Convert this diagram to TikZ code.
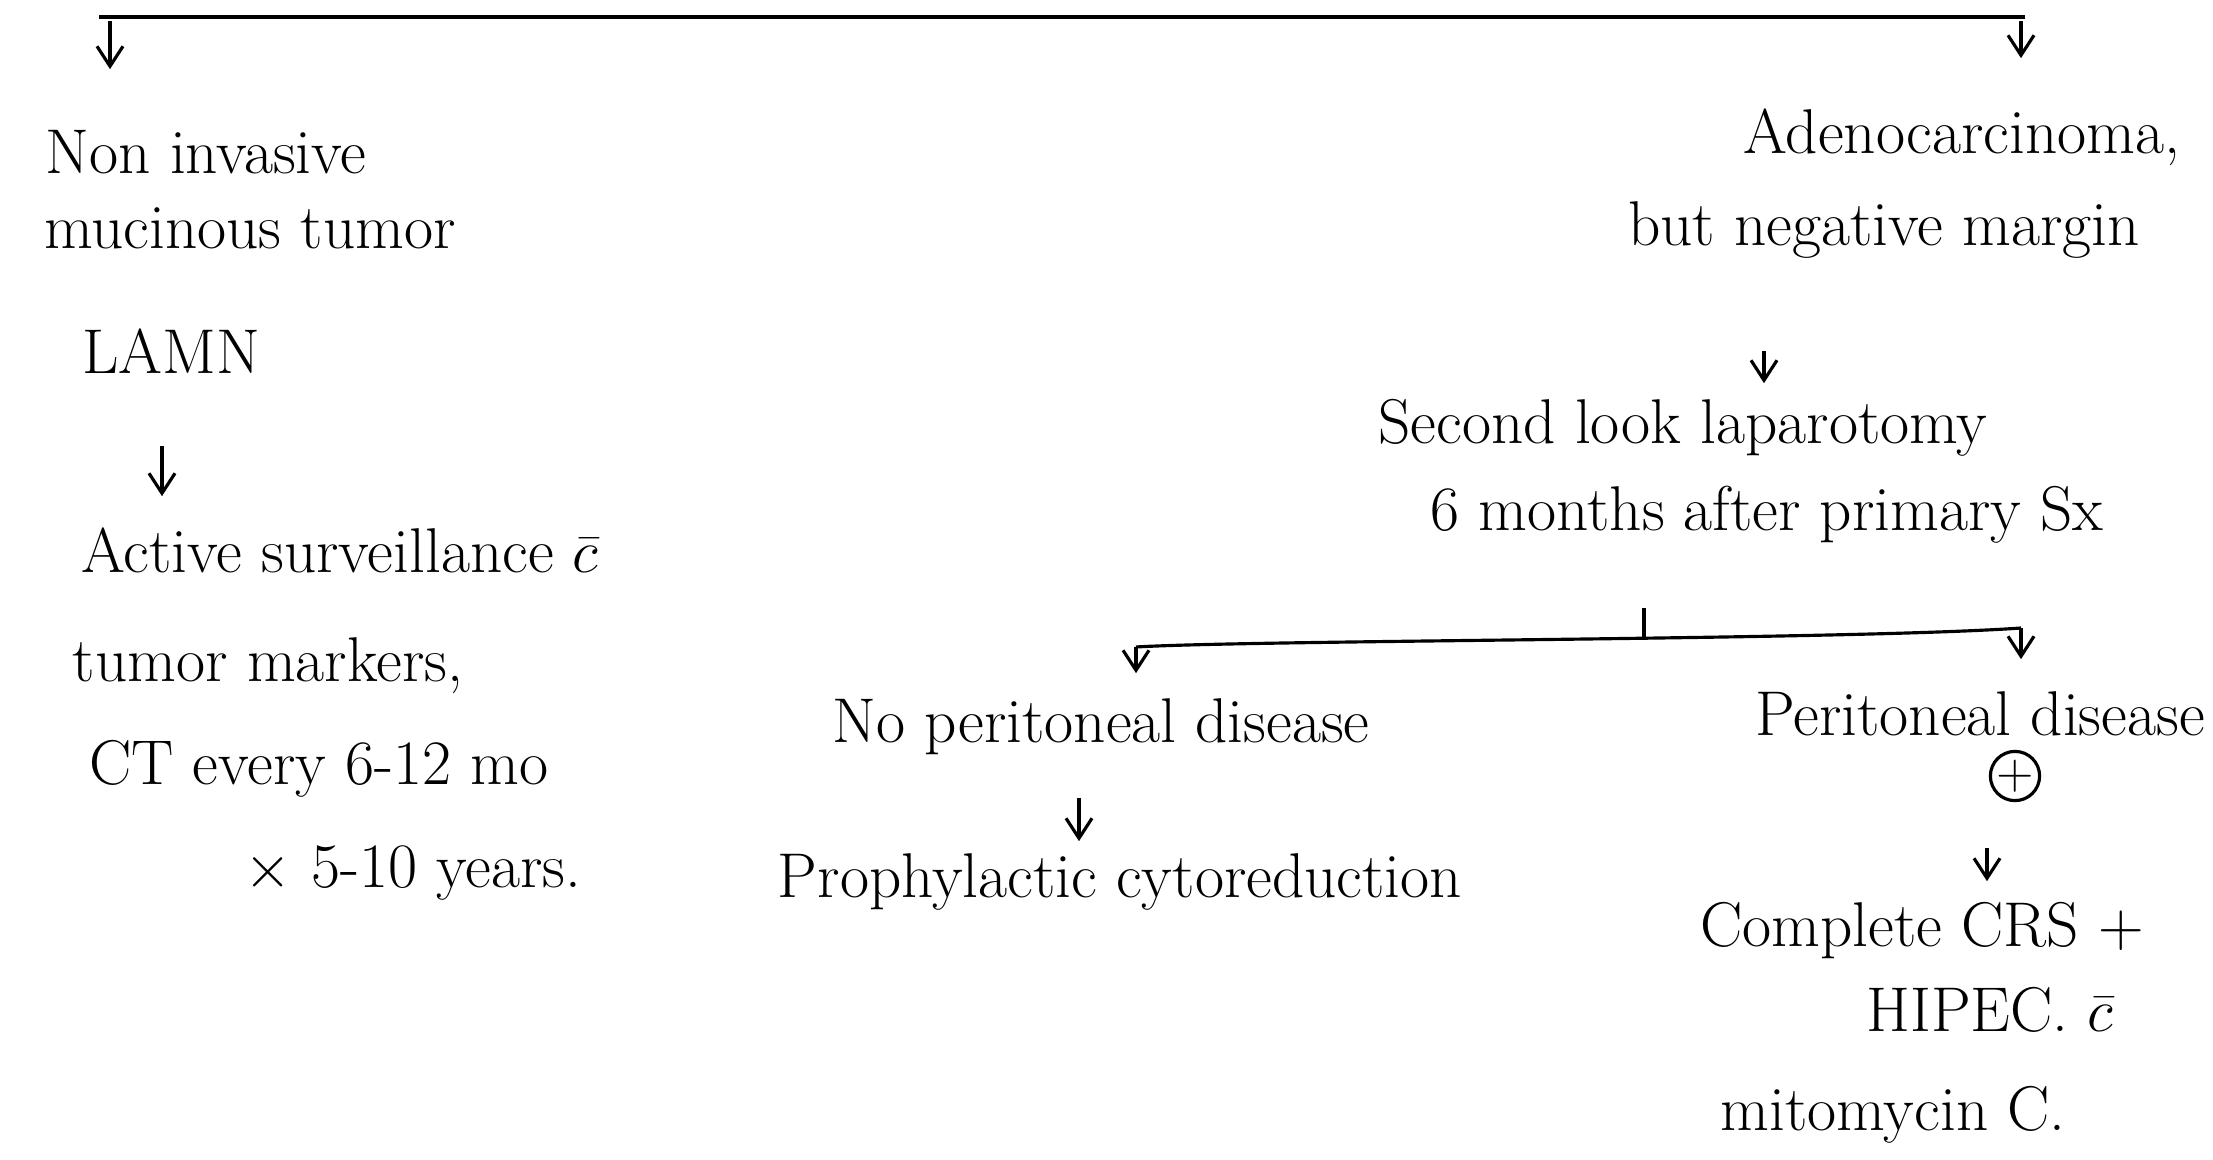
\documentclass[tikz,border=0pt]{standalone}
\usepackage{tikz}
\usetikzlibrary{arrows.meta,positioning,calc}

\begin{document}
\begin{tikzpicture}[
    note/.style={inner sep=1pt, text height=13.5pt, text depth=4.5pt, font=\fontsize{18}{21}\selectfont},
    arr/.style={-{Straight Barb[length=2mm,width=2.6mm]}, line width=0.9pt},
    link/.style={line width=0.9pt}
]
    \useasboundingbox (0,0) rectangle (22.13,-11.60);

    \coordinate (topL) at (0.99,-0.17);
    \coordinate (topR) at (20.25,-0.17);
    \coordinate (arrNon) at (1.10,-0.17);
    \coordinate (arrAde) at (20.21,-0.17);
    \draw[link] (topL) -- (topR);

    \node[note] (noninv) at (2.06,-1.58) {Non invasive};
    \node[note] (mucin) at (2.50,-2.33) {mucinous tumor};
    \node[note] (lamn) at (1.71,-3.58) {LAMN};
    \node[note] (active) at (3.40,-5.57) {Active surveillance $\bar{c}$};
    \node[note] (markers) at (2.68,-6.66) {tumor markers,};
    \node[note] (ct) at (3.19,-7.69) {CT every 6-12 mo};
    \node[note] (years) at (4.13,-8.72) {$\times$ 5-10 years.};

    \node[note] (adeno) at (19.62,-1.38) {Adenocarcinoma,};
    \node[note] (but) at (18.84,-2.30) {but negative margin};
    \node[note] (second) at (16.83,-4.28) {Second look laparotomy};
    \node[note] (sixm) at (17.67,-5.15) {6 months after primary Sx};

    \coordinate (barL) at (11.36,-6.47);
    \coordinate (barM) at (16.44,-6.40);
    \coordinate (barR) at (20.21,-6.28);

    \node[note] (nopd) at (11.01,-7.27) {No peritoneal disease};
    \node[note] (proph) at (11.20,-8.82) {Prophylactic cytoreduction};

    \node[note] (pd) at (19.80,-7.20) {Peritoneal disease};
    \node[circle, draw, line width=0.9pt, inner sep=0pt, minimum size=0.46cm,
          font=\fontsize{14}{14}\selectfont] (plus) at (20.15,-7.76) {+};
    \node[note] (complete) at (19.22,-9.31) {Complete CRS +};
    \node[note] (hipec) at (19.90,-10.16) {HIPEC. $\bar{c}$};
    \node[note] (mito) at (18.93,-11.15) {mitomycin C.};

    \draw[arr, shorten <=0.4mm, shorten >=5.3mm] (arrNon) -- (arrNon |- noninv.north);
    \draw[arr, shorten <=0.4mm, shorten >=4.4mm] (arrAde) -- (arrAde |- adeno.north);
    \draw[arr, shorten <=5.2mm, shorten >=2.5mm] ([xshift=-0.9mm]lamn.south) -- ([xshift=-0.9mm]lamn.south |- active.north);
    \draw[arr, shorten <=8.5mm, shorten >=0.9mm] ([xshift=-12mm]but.south) -- ([xshift=-12mm]but.south |- second.north);

    \draw[link, shorten <=5.7mm] (barM |- sixm.south) -- (barM);
    \draw[link] (barL) .. controls (12.5,-6.40) and (18.5,-6.40) .. (barR);
    \draw[arr, shorten >=1.8mm] (barL) -- (barL |- nopd.north);
    \draw[arr, shorten >=2.5mm] (barR) -- (barR |- pd.north);

    \draw[arr, shorten <=3.5mm, shorten >=0.5mm] ([xshift=-2.2mm]nopd.south) -- ([xshift=-2.2mm]nopd.south |- proph.north);
    \draw[arr, shorten <=4.6mm, shorten >=1.4mm] ([xshift=-2.8mm]plus.south) -- ([xshift=-2.8mm]plus.south |- complete.north);
\end{tikzpicture}
\end{document}
